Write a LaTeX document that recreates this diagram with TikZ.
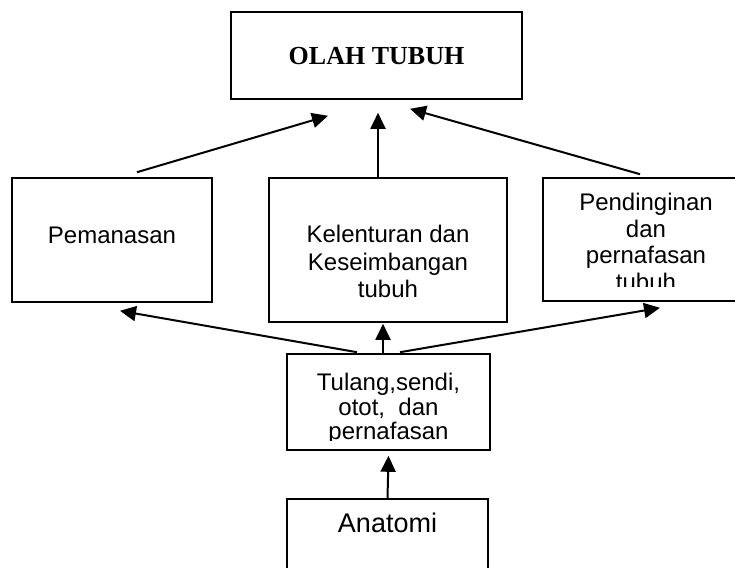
\documentclass[tikz,border=0pt]{standalone}
\usepackage{fontspec}
\setmainfont{Liberation Sans}
\newfontfamily\serifjudul{Liberation Serif}
\usetikzlibrary{arrows.meta}

\begin{document}
\begin{tikzpicture}
[x=1pt, y=-1pt,
box/.style={shape=rectangle, draw, line width=1.6pt, inner sep=0pt},
txt/.style={align=center, inner sep=0pt, font=\fontsize{24}{26.5}\selectfont},
panah/.style={line width=2pt, -{Triangle[length=16pt,width=15pt]}}]
\useasboundingbox (0,0) rectangle (735,567);
\clip (0,0) rectangle (735,567);
% kotak
\node[box, minimum width=291pt, minimum height=87pt] (olah) at (376.5,55.5) {};
\node[box, minimum width=200pt, minimum height=124pt] (pem) at (112,240) {};
\node[box, minimum width=238pt, minimum height=144pt] (kel) at (388,250) {};
\node[box, minimum width=206pt, minimum height=123pt] (pend) at (646,239.5) {};
\node[box, minimum width=203pt, minimum height=96pt] (tul) at (388.5,402) {};
\node[box, minimum width=201pt, minimum height=100pt] (anat) at (387.5,549) {};
% teks
\node[anchor=base, inner sep=0pt, font=\serifjudul\bfseries\fontsize{26}{28}\selectfont]
  (olahT) at ([yshift=-9.5pt]olah.center) {OLAH TUBUH};
\node[txt, anchor=base] (pemT) at ([yshift=-3pt]pem.center) {Pemanasan};
\node[txt, anchor=north, font=\fontsize{24}{27.5}\selectfont] (kelT) at ([yshift=-48pt]kel.north) {Kelenturan dan\\Keseimbangan\\tubuh};
\begin{scope}
\clip (pend.north west) rectangle ([yshift=15pt]pend.south east);
\node[txt, anchor=north] (pendT) at ([yshift=-16pt]pend.north) {Pendinginan\\dan\\pernafasan\\tubuh};
\end{scope}
\begin{scope}
\clip (tul.north west) rectangle ([yshift=10pt]tul.south east);
\node[txt, anchor=north, font=\fontsize{24}{24.5}\selectfont] (tulT) at ([yshift=-20pt]tul.north) {Tulang,sendi,\\otot,~~dan\\pernafasan};
\end{scope}
\node[txt, anchor=base, font=\fontsize{27}{29}\selectfont] (anatT) at ([yshift=-34pt]anat.north) {Anatomi};
% panah
\draw[panah] ([shift={(25pt,5pt)}]pem.north) -- ([shift={(-48.5pt,-16pt)}]olah.south);
\draw[panah] ([xshift=-10pt]kel.north) -- ([shift={(1.5pt,-13pt)}]olah.south);
\draw[panah] ([shift={(-6pt,3pt)}]pend.north) -- ([shift={(33.5pt,-9pt)}]olah.south);
\draw[panah] ([shift={(-31.5pt,1pt)}]tul.north) -- ([shift={(8pt,-8pt)}]pem.south);
\draw[panah] ([xshift=-5.5pt]tul.north) -- ([shift={(-5pt,-1pt)}]kel.south);
\draw[panah] ([shift={(11.5pt,1pt)}]tul.north) -- ([shift={(14pt,-6pt)}]pend.south);
\draw[panah] (anat.north) -- ([yshift=-5pt]tul.south);
\end{tikzpicture}
\end{document}
